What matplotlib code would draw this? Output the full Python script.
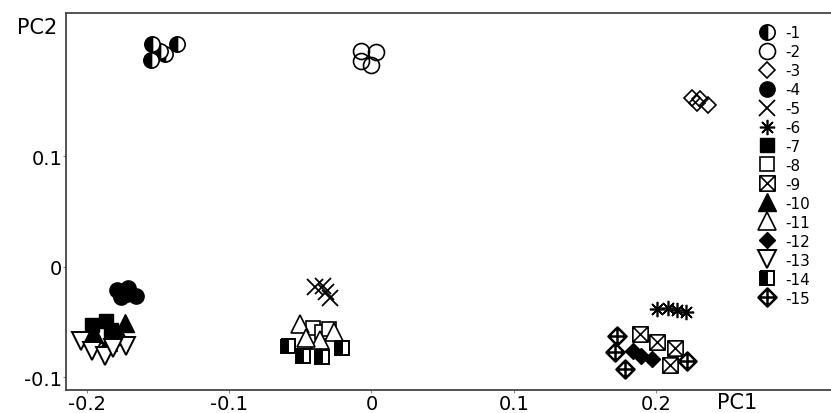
import matplotlib
matplotlib.use("Agg")
import matplotlib.pyplot as plt
from matplotlib.lines import Line2D
from matplotlib.path import Path

# PCA scores (PC1, PC2) for each of the 15 groups
g1_pc1 = [-0.1543, -0.1367, -0.1550, -0.1451, -0.1486]
g1_pc2 = [0.2014, 0.2014, 0.1869, 0.1923, 0.1950]
g2_pc1 = [-0.0074, 0.0032, -0.0074, -0.0004]
g2_pc2 = [0.1950, 0.1941, 0.1860, 0.1824]
g3_pc1 = [0.2252, 0.2308, 0.2365, 0.2287]
g3_pc2 = [0.1525, 0.1516, 0.1462, 0.1480]
g4_pc1 = [-0.1788, -0.1711, -0.1655, -0.1760, -0.1720]
g4_pc2 = [-0.0211, -0.0193, -0.0265, -0.0274, -0.0250]
g5_pc1 = [-0.0397, -0.0341, -0.0292, -0.0320]
g5_pc2 = [-0.0184, -0.0174, -0.0283, -0.0229]
g6_pc1 = [0.2006, 0.2084, 0.2210, 0.2147]
g6_pc2 = [-0.0382, -0.0373, -0.0410, -0.0392]
g7_pc1 = [-0.1964, -0.1866, -0.1831]
g7_pc2 = [-0.0527, -0.0491, -0.0572]
g8_pc1 = [-0.0411, -0.0348, -0.0300]
g8_pc2 = [-0.0555, -0.0591, -0.0560]
g9_pc1 = [0.1887, 0.2006, 0.2133, 0.2098]
g9_pc2 = [-0.0608, -0.0681, -0.0735, -0.0889]
g10_pc1 = [-0.1732, -0.1950, -0.1767, -0.1852]
g10_pc2 = [-0.0509, -0.0608, -0.0627, -0.0681]
g11_pc1 = [-0.0502, -0.0264, -0.0362, -0.0460]
g11_pc2 = [-0.0518, -0.0590, -0.0663, -0.0645]
g12_pc1 = [0.1838, 0.1894, 0.1971]
g12_pc2 = [-0.0762, -0.0807, -0.0834]
g13_pc1 = [-0.2041, -0.1964, -0.1873, -0.1725, -0.1817]
g13_pc2 = [-0.0672, -0.0762, -0.0807, -0.0717, -0.0735]
g14_pc1 = [-0.0587, -0.0481, -0.0348, -0.0207]
g14_pc2 = [-0.0717, -0.0807, -0.0816, -0.0735]
g15_pc1 = [0.1725, 0.1711, 0.1781, 0.2217]
g15_pc2 = [-0.0624, -0.0771, -0.0925, -0.0853]

group_labels = ["-1", "-2", "-3", "-4", "-5", "-6", "-7", "-8", "-9",
                "-10", "-11", "-12", "-13", "-14", "-15"]
x_ticks = [-0.2, -0.1, 0.0, 0.1, 0.2]
x_tick_labels = ["-0.2", "-0.1", "0", "0.1", "0.2"]
y_ticks = [-0.1, 0.0, 0.1]
y_tick_labels = ["-0.1", "0", "0.1"]

scores = [
    (g1_pc1, g1_pc2), (g2_pc1, g2_pc2), (g3_pc1, g3_pc2), (g4_pc1, g4_pc2),
    (g5_pc1, g5_pc2), (g6_pc1, g6_pc2), (g7_pc1, g7_pc2), (g8_pc1, g8_pc2),
    (g9_pc1, g9_pc2), (g10_pc1, g10_pc2), (g11_pc1, g11_pc2),
    (g12_pc1, g12_pc2), (g13_pc1, g13_pc2), (g14_pc1, g14_pc2),
    (g15_pc1, g15_pc2),
]

# custom symbols: square with a cross, diamond with a cross inside
boxed_x = Path(
    [(-1, -1), (1, -1), (1, 1), (-1, 1), (-1, -1),
     (-1, -1), (1, 1), (-1, 1), (1, -1)],
    [Path.MOVETO, Path.LINETO, Path.LINETO, Path.LINETO, Path.CLOSEPOLY,
     Path.MOVETO, Path.LINETO, Path.MOVETO, Path.LINETO])
diamond_cross = Path.make_compound_path(
    Path([(0, 1), (1, 0), (0, -1), (-1, 0), (0, 1)],
         [Path.MOVETO, Path.LINETO, Path.LINETO, Path.LINETO, Path.CLOSEPOLY]),
    Path([(0, 0.8), (0, -0.8)]),
    Path([(-0.8, 0), (0.8, 0)]),
)

K, W = "black", "white"
styles = [
    dict(marker="o", ms=11, mfc=K, mfcalt=W, fillstyle="left", mec=K, mew=1.2),
    dict(marker="o", ms=11.5, mfc="none", mec=K, mew=1.2),
    dict(marker="D", ms=8, mfc="none", mec=K, mew=1.2),
    dict(marker="o", ms=11, mfc=K, mec=K, mew=1.0),
    dict(marker="x", ms=11, mec=K, mew=1.3),
    dict(marker=(8, 2, 0), ms=11, mec=K, mew=1.2),
    dict(marker="s", ms=10, mfc=K, mec=K, mew=1.0),
    dict(marker="s", ms=10, mfc=W, mec=K, mew=1.2),
    dict(marker=boxed_x, ms=11, mfc=W, mec=K, mew=1.2),
    dict(marker="^", ms=12.5, mfc=K, mec=K, mew=1.0),
    dict(marker="^", ms=12.5, mfc=W, mec=K, mew=1.2),
    dict(marker="D", ms=8, mfc=K, mec=K, mew=1.0),
    dict(marker="v", ms=12.5, mfc=W, mec=K, mew=1.4),
    dict(marker="s", ms=10.5, mfc=K, mfcalt=W, fillstyle="left", mec=K, mew=1.4),
    dict(marker=diamond_cross, ms=13, mfc=W, mec=K, mew=1.8),
]

plt.rcParams["font.family"] = ["DejaVu Sans"]

fig = plt.figure(figsize=(8.31, 4.14), dpi=100)
ax = fig.add_axes([0.080, 0.0563, 0.920, 0.910])

for (px, py), st in zip(scores, styles):
    ax.plot(px, py, linestyle="none", **st)

ax.set_xlim(-0.2143, 0.3229)
ax.set_ylim(-0.1112, 0.2294)
ax.set_xticks(x_ticks)
ax.set_xticklabels(x_tick_labels)
ax.set_yticks(y_ticks)
ax.set_yticklabels(y_tick_labels)
ax.tick_params(direction="out", length=2, width=0.8, color="#888888",
               labelsize=14, labelcolor="black", pad=1)

for side in ("left", "bottom", "top"):
    ax.spines[side].set_color("#444444")
    ax.spines[side].set_linewidth(1.3)
ax.spines["right"].set_visible(False)

fig.text(0.045, 0.932, "PC2", fontsize=15, ha="center", va="center")
fig.text(0.887, 0.027, "PC1", fontsize=15, ha="center", va="center")

handles = [Line2D([], [], linestyle="none", **st) for st in styles]
leg = ax.legend(handles, group_labels, loc="upper left",
                bbox_to_anchor=(758 / 831, 1 - 26 / 414),
                bbox_transform=fig.transFigure, frameon=False,
                fontsize=11, handlelength=1.2, handletextpad=0.6,
                labelspacing=0.26, borderpad=0, borderaxespad=0)

fig.savefig("out.png", dpi=100)
